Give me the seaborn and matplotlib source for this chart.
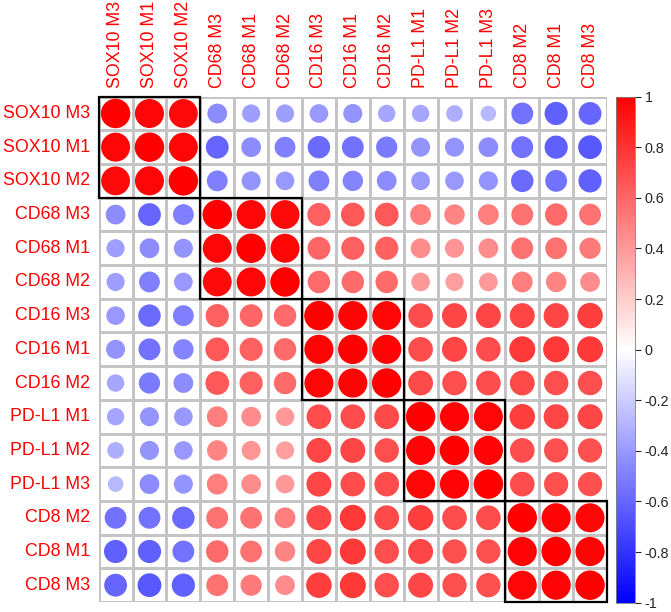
import numpy as np
import pandas as pd
import seaborn as sns
import matplotlib
matplotlib.use("Agg")
import matplotlib.pyplot as plt
from matplotlib.colors import LinearSegmentedColormap, Normalize
from matplotlib.cm import ScalarMappable
from matplotlib.patches import Rectangle

# variable order (hclust order, as in the corrplot)
labels = ["SOX10 M3", "SOX10 M1", "SOX10 M2",
          "CD68 M3", "CD68 M1", "CD68 M2",
          "CD16 M3", "CD16 M1", "CD16 M2",
          "PD-L1 M1", "PD-L1 M2", "PD-L1 M3",
          "CD8 M2", "CD8 M1", "CD8 M3"]

# upper triangle of the correlation matrix, row i starts at column i
upper = [
    [1.00, 0.97, 0.96, -0.45, -0.38, -0.38, -0.40, -0.42, -0.35, -0.35, -0.32, -0.28, -0.55, -0.62, -0.60],
    [1.00, 0.97, -0.60, -0.45, -0.50, -0.58, -0.55, -0.52, -0.42, -0.42, -0.45, -0.55, -0.62, -0.65],
    [1.00, -0.50, -0.42, -0.40, -0.50, -0.48, -0.45, -0.40, -0.40, -0.42, -0.58, -0.55, -0.62],
    [1.00, 0.97, 0.96, 0.62, 0.65, 0.65, 0.50, 0.48, 0.50, 0.55, 0.58, 0.55],
    [1.00, 0.97, 0.60, 0.62, 0.62, 0.45, 0.42, 0.45, 0.55, 0.55, 0.52],
    [1.00, 0.58, 0.58, 0.58, 0.40, 0.38, 0.40, 0.50, 0.48, 0.45],
    [1.00, 0.98, 0.97, 0.70, 0.72, 0.72, 0.72, 0.72, 0.75],
    [1.00, 0.98, 0.70, 0.72, 0.70, 0.78, 0.78, 0.78],
    [1.00, 0.71, 0.69, 0.70, 0.71, 0.69, 0.69],
    [1.00, 0.98, 0.97, 0.75, 0.72, 0.72],
    [1.00, 0.98, 0.70, 0.68, 0.68],
    [1.00, 0.70, 0.68, 0.68],
    [1.00, 0.98, 0.97],
    [1.00, 0.98],
    [1.00],
]

# cluster sizes for the black boxes (addrect)
clusters = [3, 3, 3, 3, 3]

cbar_ticks = [1, 0.8, 0.6, 0.4, 0.2, 0, -0.2, -0.4, -0.6, -0.8, -1]
cbar_labels = ["1", "0.8", "0.6", "0.4", "0.2", "0", "-0.2", "-0.4", "-0.6", "-0.8", "-1"]

n = len(labels)
corr = np.zeros((n, n))
for i, row in enumerate(upper):
    corr[i, i:] = row
    corr[i:, i] = row

df = pd.DataFrame([(j + 0.5, i + 0.5, corr[i, j]) for i in range(n) for j in range(n)],
                  columns=["x", "y", "r"])
df["absr"] = df["r"].abs()

sns.set_style("white")
plt.rcParams["font.family"] = ["Liberation Sans", "DejaVu Sans"]

cmap = LinearSegmentedColormap.from_list("bwr_corr", ["#0000FF", "#FFFFFF", "#FF0000"])

fig = plt.figure(figsize=(6.71, 6.12), dpi=100)
ax = fig.add_axes([0.147, 0.0163, 0.7576, 0.8258])

# white cells with light grey grid, like corrplot's background
sns.heatmap(np.zeros((n, n)), cmap=LinearSegmentedColormap.from_list("w", ["white", "white"]),
            linewidths=0.8, linecolor="#C4C4C4", cbar=False, ax=ax)

sns.scatterplot(data=df, x="x", y="y", hue="r", size="absr", palette=cmap,
                hue_norm=(-1, 1), sizes=(0, 450), size_norm=(0, 1),
                linewidth=0, legend=False, ax=ax, zorder=3)

start = 0
for k in clusters:
    ax.add_patch(Rectangle((start, start), k, k, fill=False, ec="black", lw=1.6,
                           zorder=5, clip_on=False))
    start += k

ax.set_xlim(0, n)
ax.set_ylim(n, 0)
ax.set_xlabel("")
ax.set_ylabel("")
ax.set_xticks(np.arange(n) + 0.5)
ax.set_yticks(np.arange(n) + 0.5)
ax.set_xticklabels(labels, rotation=90, color="red", fontsize=12.8)
ax.set_yticklabels(labels, rotation=0, color="red", fontsize=12.8)
ax.xaxis.tick_top()
ax.tick_params(axis="both", length=0, pad=6)
for s in ax.spines.values():
    s.set_visible(False)

cax = fig.add_axes([0.918, 0.0152, 0.0283, 0.827])
sm = ScalarMappable(norm=Normalize(-1, 1), cmap=cmap)
cb = fig.colorbar(sm, cax=cax, ticks=cbar_ticks)
cb.ax.set_yticklabels(cbar_labels)
cb.ax.tick_params(length=4, width=0.8, labelsize=10.4, pad=3)
cb.outline.set_linewidth(0.6)
cb.outline.set_edgecolor("#808080")

fig.savefig("out.png", dpi=100)
